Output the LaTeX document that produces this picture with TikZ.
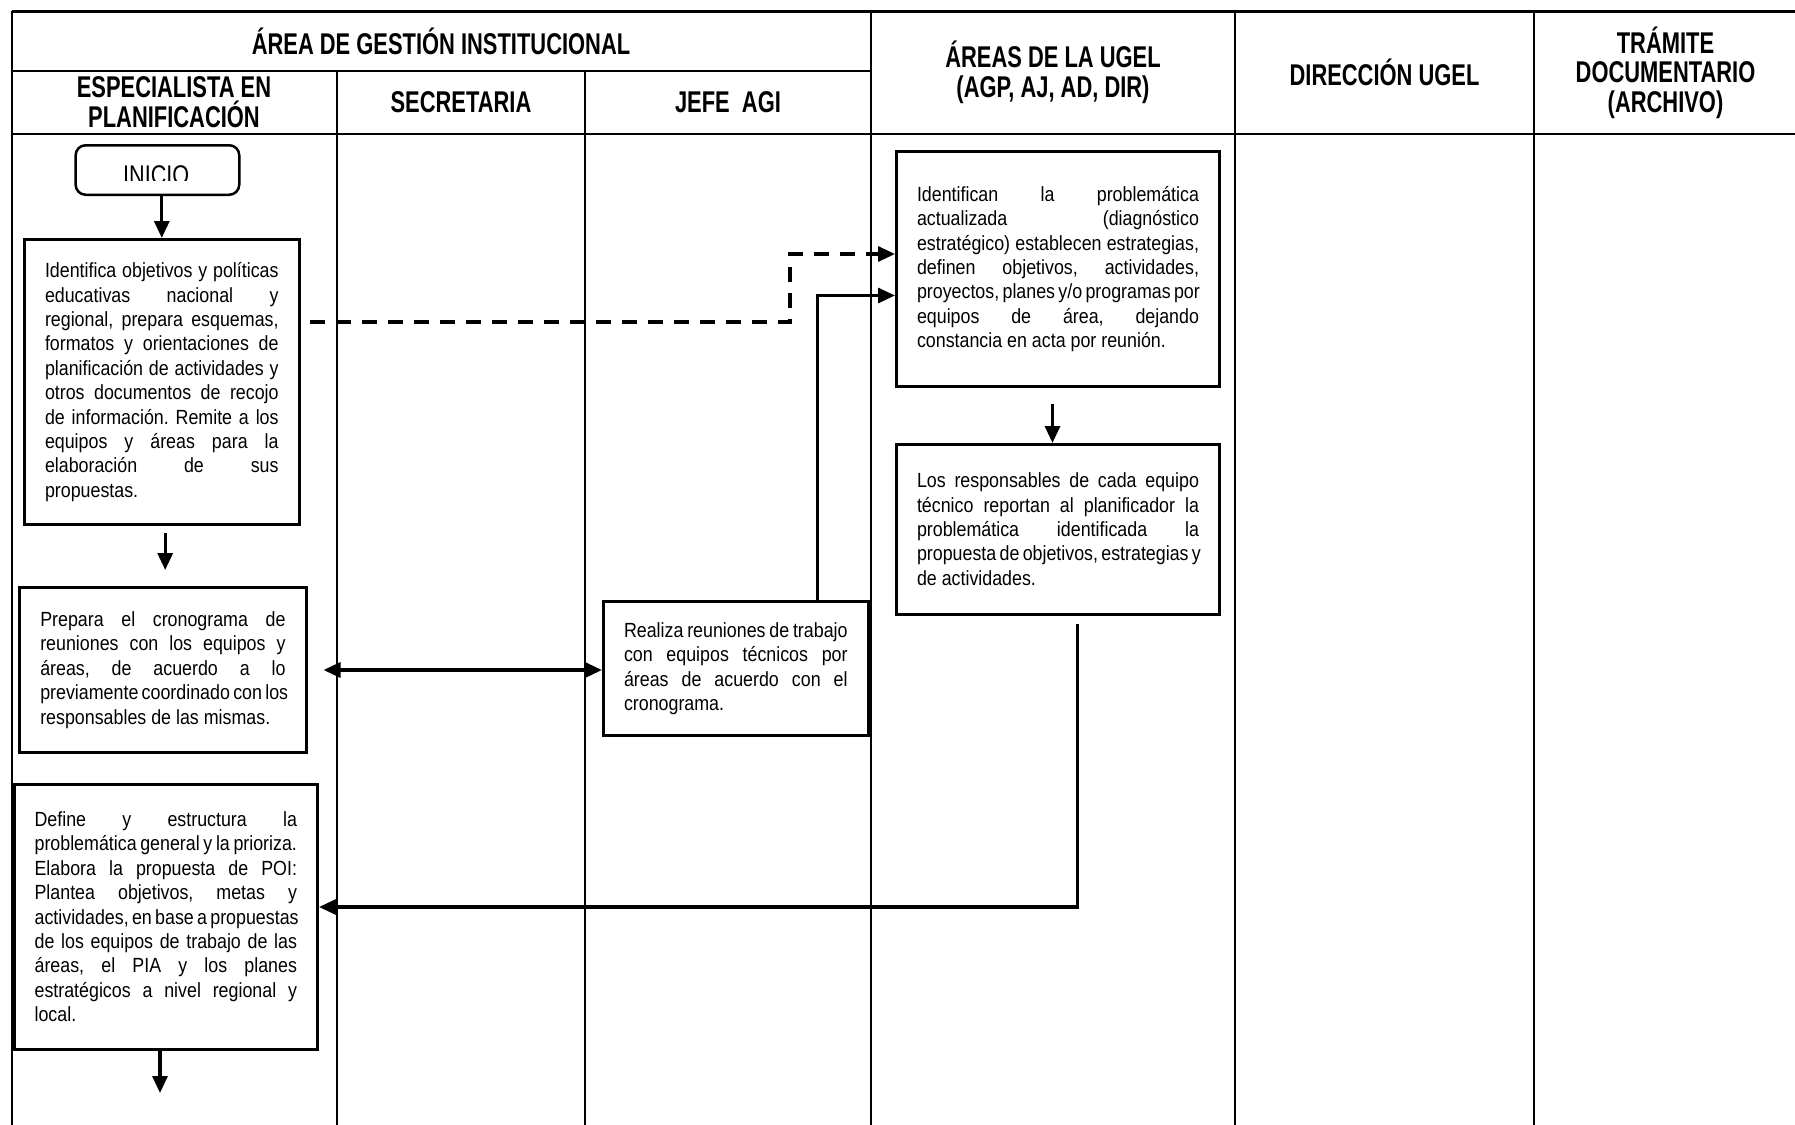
\documentclass[tikz,border=0pt]{standalone}
\usepackage{fontspec}
\setmainfont{Liberation Sans}
\newfontfamily\bodyfont[FakeStretch=0.87]{Liberation Sans}
\newfontfamily\headfont[FakeStretch=0.73]{Liberation Sans}
\newfontfamily\inifont[FakeStretch=0.8]{Liberation Sans}
\usetikzlibrary{arrows.meta}
\def\jw{200pt}
\newcommand\jl[1]{\hbox to \jw{#1}}
\newcommand\lastl[1]{\hbox to \jw{#1\hfil}}
\begin{document}
\begin{tikzpicture}[x=1pt,y=-1pt,
  lane/.style={line width=2pt},
  box/.style={draw, line width=3pt, inner sep=0pt, anchor=north west,
    font=\bodyfont\fontsize{20.5}{24.4}\selectfont\frenchspacing},
  head/.style={font=\headfont\bfseries\fontsize{30}{29.8}\selectfont, align=center, inner sep=0pt},
  arr/.style={line width=3.2pt, -{Triangle[length=17pt,width=15pt]}},
  dbl/.style={line width=3.2pt, {Triangle[length=17pt,width=15pt]}-{Triangle[length=17pt,width=15pt]}},
  dsh/.style={dash pattern=on 15pt off 11pt}
]
\useasboundingbox (0,0) rectangle (1795,1124);
\fill[white] (0,0) rectangle (1795,1124);

% swimlane table
\draw[lane, line width=2.5pt] (11.5,11.5) -- (1800,11.5);
\draw[lane] (11.5,11.5) -- (11.5,1130);
\draw[lane] (11.5,71) -- (871,71);
\draw[lane, line width=2.5pt] (11.5,134) -- (1800,134);
\draw[lane] (336.6,71) -- (336.6,1130);
\draw[lane] (585,71) -- (585,1130);
\draw[lane] (871,11.5) -- (871,1130);
\draw[lane] (1235,11.5) -- (1235,1130);
\draw[lane] (1534,11.5) -- (1534,1130);

% headers
\node[head] (hagi) at (441,41) {ÁREA DE GESTIÓN INSTITUCIONAL};
\node[head] (hesp) at (174,102.5) {ESPECIALISTA EN\\PLANIFICACIÓN};
\node[head] (hsec) at (461,102.5) {SECRETARIA};
\node[head] (hjefe) at (728,102.5) {JEFE\ \ AGI};
\node[head] (hareas) at (1053,72.7) {ÁREAS DE LA UGEL\\(AGP, AJ, AD, DIR)};
\node[head] (hdir) at (1384.5,72.7) {DIRECCIÓN UGEL};
\node[head] (htram) at (1665.5,72.7) {TRÁMITE\\DOCUMENTARIO\\(ARCHIVO)};

% INICIO
\node[draw, line width=2.5pt, rounded corners=10pt, minimum width=163.6pt, minimum height=49.5pt,
  anchor=north west, inner sep=0pt] (ini) at (74.4,144) {};
\begin{scope}
\clip (74.4,144) rectangle (238,180.5);
\node[font=\inifont\fontsize{27}{27}\selectfont, anchor=base, inner sep=0pt] (initxt) at (156.2,184.3) {INICIO};
\end{scope}

% process boxes
\node[box, minimum width=274.6pt, minimum height=285pt] (b1) at (23,238) {\def\jw{233.6pt}%
\vbox{%
\jl{Identifica objetivos y políticas}
\jl{educativas nacional y}
\jl{regional, prepara esquemas,}
\jl{formatos y orientaciones de}
\jl{planificación de actividades y}
\jl{otros documentos de recojo}
\jl{de información. Remite a los}
\jl{equipos y áreas para la}
\jl{elaboración de sus}
\lastl{propuestas.}}};

\node[box, minimum width=286.2pt, minimum height=165pt] (b2) at (18.3,586) {\def\jw{245.2pt}%
\vbox{%
\jl{Prepara el cronograma de}
\jl{reuniones con los equipos y}
\jl{áreas, de acuerdo a lo}
\jl{previamente coordinado con los}
\lastl{responsables de las mismas.}}};

\node[box, minimum width=303.4pt, minimum height=264.5pt] (b3) at (12.6,783) {\def\jw{262.4pt}%
\vbox{%
\jl{Define y estructura la}
\jl{problemática general y la prioriza.}
\jl{Elabora la propuesta de POI:}
\jl{Plantea objetivos, metas y}
\jl{actividades, en base a propuestas}
\jl{de los equipos de trabajo de las}
\jl{áreas, el PIA y los planes}
\jl{estratégicos a nivel regional y}
\lastl{local.}}};

\node[box, minimum width=264.6pt, minimum height=134pt] (j) at (602,600) {\def\jw{223.6pt}%
\vbox{%
\jl{Realiza reuniones de trabajo}
\jl{con equipos técnicos por}
\jl{áreas de acuerdo con el}
\lastl{cronograma.}}};

\node[box, minimum width=323pt, minimum height=235pt] (a1) at (895,150) {\def\jw{282pt}%
\vbox{%
\jl{Identifican la problemática}
\jl{actualizada (diagnóstico}
\jl{estratégico) establecen estrategias,}
\jl{definen objetivos, actividades,}
\jl{proyectos, planes y/o programas por}
\jl{equipos de área, dejando}
\lastl{constancia en acta por reunión.}}};

\node[box, minimum width=323pt, minimum height=169.5pt] (a2) at (895,443) {\def\jw{282pt}%
\vbox{%
\jl{Los responsables de cada equipo}
\jl{técnico reportan al planificador la}
\jl{problemática identificada la}
\jl{propuesta de objetivos, estrategias y}
\lastl{de actividades.}}};

% connectors
\coordinate (endp) at (160,1093);
\coordinate (dcorner) at (790,254);
\draw[arr] (ini.south -| b1.north) -- (b1.north);
\draw[arr] ([xshift=3.4pt,yshift=-7pt]b1.south) -- ([xshift=2.3pt,yshift=16pt]b2.north);
\draw[arr] (b3.south -| endp) -- (endp);
\draw[arr] ([xshift=-5.5pt,yshift=-15.7pt]a1.south) -- ([xshift=-5.5pt]a2.north);
\draw[arr,dsh] ([xshift=9.4pt,yshift=60pt]b1.east) -| (dcorner) -- (dcorner -| a1.west);
\draw[arr] ([xshift=82pt]j.north) |- ([yshift=-26.5pt]a1.west);
\draw[dbl] ([xshift=16pt]b2.east) -- (b2.east -| j.west);
\draw[arr] ([shift={(19.5pt,-8pt)}]a2.south) |- ([yshift=9.75pt]b3.east);
\end{tikzpicture}
\end{document}
